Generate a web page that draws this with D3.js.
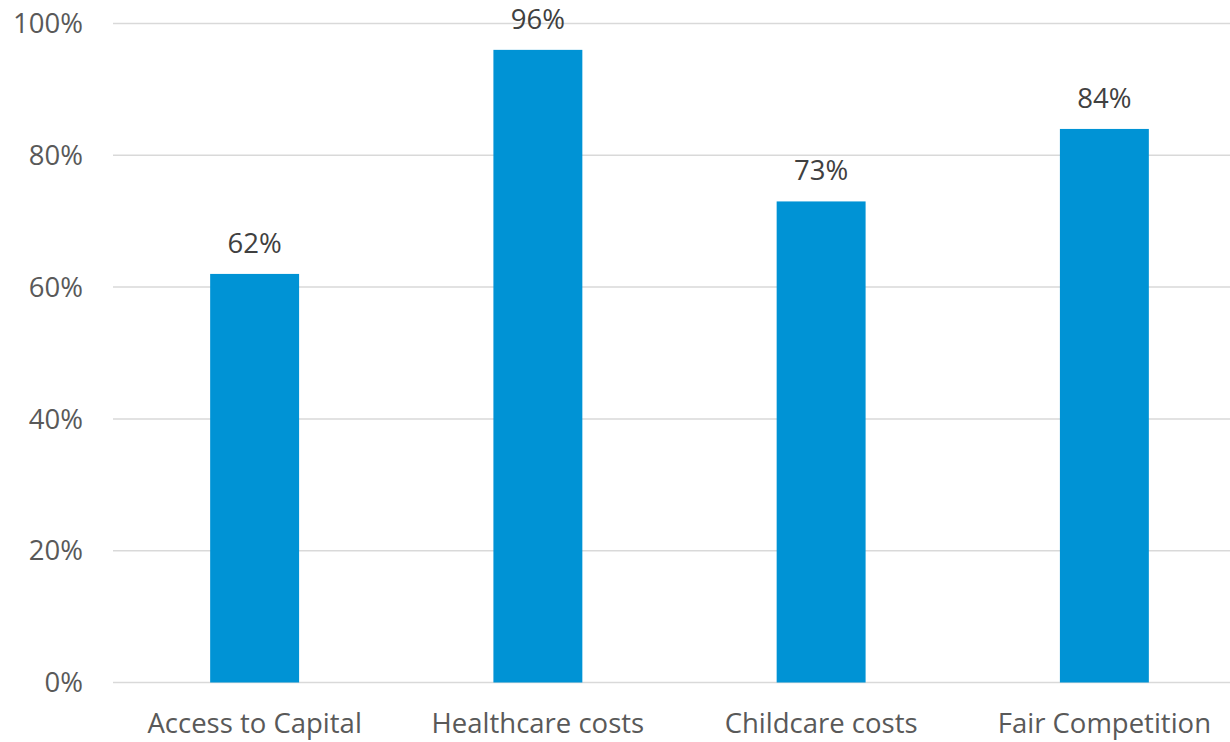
<!DOCTYPE html>
<html><head><meta charset="utf-8">
<script src="https://cdn.jsdelivr.net/npm/d3@7"></script>
<style>body{margin:0;background:#fff}svg{display:block}</style>
</head><body>
<svg id="c" width="1230" height="742"></svg>
<script>
const categories = ["Access to Capital", "Healthcare costs", "Childcare costs", "Fair Competition"];
const values = [62, 96, 73, 84];
const yTicks = [0, 20, 40, 60, 80, 100];

const svg = d3.select("#c");
const font = "'Open Sans', sans-serif";
const x = d3.scaleBand().domain(categories).range([113, 1246]).paddingInner(0.686).paddingOuter(0.343);
const y = d3.scaleLinear().domain([0, 100]).range([682.5, 23.5]);

svg.append("g").selectAll("line").data(yTicks).join("line")
  .attr("x1", 113).attr("x2", 1230)
  .attr("y1", d => y(d)).attr("y2", d => y(d))
  .attr("stroke", "#d9d9d9").attr("stroke-width", 1.5);

svg.append("g").selectAll("text").data(yTicks).join("text")
  .attr("x", 83).attr("y", d => y(d)).attr("dy", "0.35em")
  .attr("text-anchor", "end").attr("font-family", font).attr("font-size", 27.5)
  .attr("fill", "#595959").text(d => d + "%");

svg.append("g").selectAll("rect").data(values).join("rect")
  .attr("x", (d, i) => x(categories[i])).attr("width", x.bandwidth())
  .attr("y", d => y(d)).attr("height", d => y(0) - y(d))
  .attr("fill", "#0093d5");

svg.append("g").selectAll("text").data(values).join("text")
  .attr("x", (d, i) => x(categories[i]) + x.bandwidth() / 2)
  .attr("y", d => y(d) - 21)
  .attr("text-anchor", "middle").attr("font-family", font).attr("font-size", 27.5)
  .attr("fill", "#404040").text(d => d + "%");

svg.append("g").selectAll("text").data(categories).join("text")
  .attr("x", d => x(d) + x.bandwidth() / 2).attr("y", 733)
  .attr("text-anchor", "middle").attr("font-family", font).attr("font-size", 27.5)
  .attr("fill", "#595959").text(d => d);
</script>
</body></html>
